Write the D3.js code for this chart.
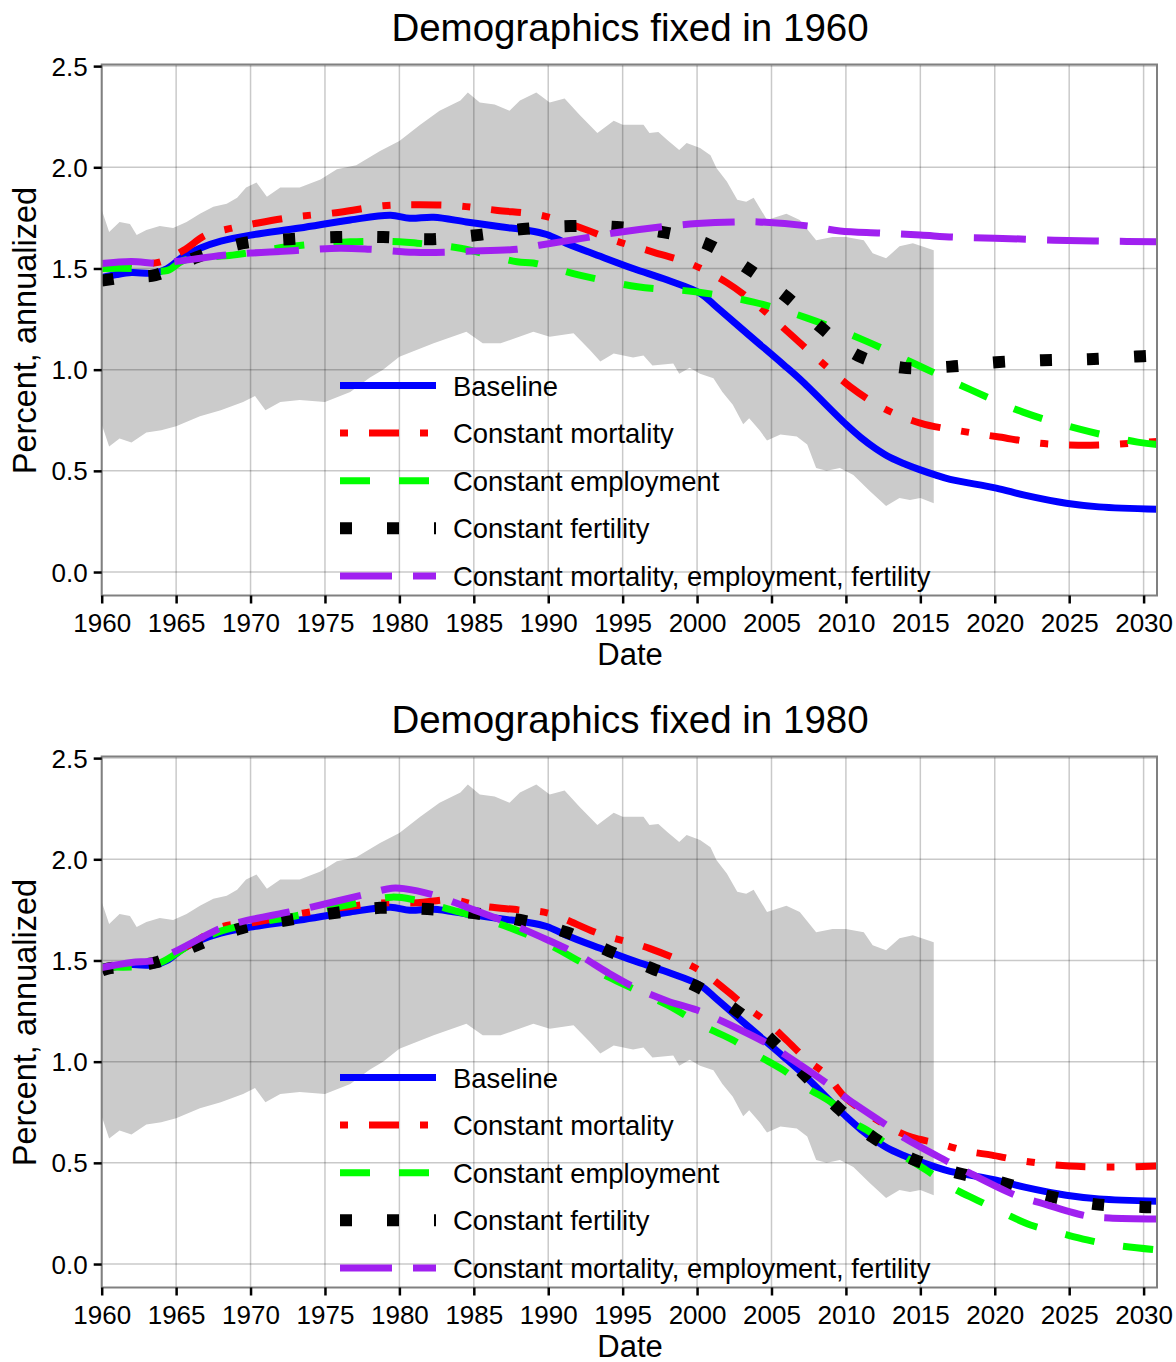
<!DOCTYPE html>
<html>
<head>
<meta charset="utf-8">
<script src="https://cdn.jsdelivr.net/npm/d3@7"></script>
<style>
  body { margin: 0; background: #fff; }
  svg { display: block; }
  text { font-family: "Liberation Sans", Arial, Helvetica, sans-serif; fill: #000; }
</style>
</head>
<body>
<svg id="chart" width="1176" height="1362"></svg>
<script>
// ---- axis ticks -------------------------------------------------------
const xTickValues = [1960, 1965, 1970, 1975, 1980, 1985, 1990, 1995, 2000, 2005, 2010, 2015, 2020, 2025, 2030];
const yTickValues = [0.0, 0.5, 1.0, 1.5, 2.0, 2.5];

const panelTitles = ["Demographics fixed in 1960", "Demographics fixed in 1980"];
const legendLabels = ["Baseline", "Constant mortality", "Constant employment", "Constant fertility",
                      "Constant mortality, employment, fertility"];

// ---- uncertainty band (upper / lower edge), [year, percent] -----------
const bandUpper = [
  [1960.0,1.79],[1960.5,1.68],[1961.2,1.73],[1961.9,1.72],[1962.35,1.665],[1963.0,1.69],[1963.9,1.71],
  [1964.8,1.70],[1965.7,1.73],[1966.6,1.77],[1967.5,1.805],[1968.4,1.82],[1969.1,1.85],[1969.7,1.90],
  [1970.4,1.925],[1971.1,1.855],[1972.0,1.90],[1973.3,1.90],[1974.7,1.94],[1975.8,1.99],[1977.1,2.01],
  [1978.7,2.08],[1980.0,2.13],[1981.4,2.21],[1982.7,2.28],[1984.1,2.33],[1984.6,2.37],[1985.4,2.32],
  [1986.4,2.31],[1987.4,2.28],[1988.1,2.33],[1989.2,2.37],[1990.1,2.32],[1991.1,2.34],[1992.1,2.26],
  [1993.3,2.17],[1994.4,2.23],[1995.0,2.21],[1996.4,2.21],[1996.8,2.17],[1997.4,2.175],[1998.0,2.135],
  [1998.8,2.085],[1999.3,2.12],[2000.2,2.095],[2000.9,2.06],[2001.3,1.996],[2002.0,1.93],[2002.7,1.84],
  [2003.3,1.83],[2003.8,1.85],[2004.7,1.74],[2006.0,1.77],[2006.9,1.74],[2008.0,1.64],[2009.1,1.656],
  [2010.0,1.656],[2011.2,1.64],[2011.8,1.575],[2012.7,1.55],[2013.6,1.61],[2014.5,1.625],[2015.9,1.59]
];
const bandLower = [
  [1960.0,0.73],[1960.5,0.62],[1961.2,0.66],[1962.0,0.64],[1963.0,0.69],[1964.0,0.70],[1965.0,0.72],
  [1966.6,0.77],[1968.0,0.80],[1969.5,0.84],[1970.3,0.87],[1971.0,0.80],[1972.0,0.84],[1973.3,0.85],
  [1975.0,0.84],[1976.7,0.89],[1978.0,0.96],[1978.9,1.00],[1980.0,1.064],[1982.3,1.13],[1984.5,1.187],
  [1985.6,1.13],[1986.8,1.13],[1989.0,1.187],[1990.1,1.163],[1991.7,1.18],[1992.8,1.097],[1993.5,1.04],
  [1994.4,1.08],[1995.7,1.06],[1996.4,1.07],[1997.0,1.02],[1998.4,1.03],[1998.8,0.98],[1999.5,1.01],
  [2000.2,0.98],[2001.1,0.958],[2001.7,0.89],[2002.4,0.826],[2003.1,0.73],[2003.5,0.76],[2004.2,0.70],
  [2004.7,0.65],[2005.6,0.68],[2006.7,0.67],[2007.4,0.63],[2008.0,0.514],[2008.7,0.50],[2009.6,0.514],
  [2010.5,0.48],[2011.6,0.40],[2012.7,0.326],[2013.6,0.366],[2014.3,0.356],[2015.0,0.366],[2015.9,0.34]
];

// ---- baseline (shared by both panels) --------------------------------
const baseline = [
  [1960,1.455],[1961,1.47],[1962,1.48],[1963.5,1.477],[1964.4,1.50],[1965.5,1.56],[1966.6,1.60],
  [1968,1.635],[1970,1.665],[1973.3,1.70],[1976.7,1.74],[1979.4,1.763],[1980.7,1.748],[1982.3,1.753],
  [1984.5,1.73],[1986.8,1.706],[1988.5,1.69],[1989.9,1.668],[1991.2,1.625],[1993.5,1.56],[1995.7,1.50],
  [1998,1.443],[2000.2,1.378],[2001.3,1.31],[2003.5,1.17],[2005.8,1.025],[2007.1,0.94],[2010,0.73],
  [2011,0.665],[2012,0.61],[2013,0.565],[2014,0.533],[2015,0.505],[2016,0.48],[2017,0.458],
  [2020.1,0.415],[2022,0.38],[2024.8,0.34],[2027,0.322],[2030.9,0.31]
];

// ---- demographics fixed in 1960 ---------------------------------------
const mortality1960 = [
  [1960,1.52],[1962,1.525],[1963.8,1.53],[1965.5,1.59],[1967,1.665],[1968.8,1.70],[1970.5,1.725],
  [1973,1.755],[1976,1.778],[1978.9,1.81],[1981.2,1.815],[1983.9,1.81],[1986.6,1.787],[1989.5,1.763],
  [1992,1.706],[1994.4,1.64],[1997.1,1.58],[1999.5,1.525],[2002,1.43],[2004.2,1.31],[2006.2,1.18],
  [2008.2,1.047],[2010.3,0.915],[2012.5,0.81],[2015,0.736],[2017.7,0.697],[2020.3,0.667],[2023,0.637],
  [2025.6,0.627],[2028.3,0.632],[2030.9,0.645]
];
const employment1960 = [
  [1960,1.50],[1962,1.50],[1964.4,1.49],[1965.5,1.54],[1968.8,1.566],[1972.5,1.607],[1976.7,1.632],
  [1980,1.632],[1981.2,1.625],[1984.1,1.60],[1987.9,1.533],[1989,1.527],[1992.1,1.467],[1996,1.41],
  [1999.9,1.385],[2003.8,1.334],[2007.4,1.255],[2011.2,1.146],[2014.8,1.023],[2018.4,0.90],
  [2021.9,0.79],[2025.7,0.706],[2029.6,0.642],[2030.9,0.63]
];
const fertility1960 = [
  [1960,1.44],[1962,1.46],[1963.6,1.467],[1966.4,1.556],[1969.5,1.625],[1972.6,1.645],[1975.8,1.655],
  [1978.9,1.655],[1982,1.645],[1985.2,1.665],[1988.3,1.695],[1991.5,1.71],[1994.6,1.705],[1997.7,1.68],
  [2000.7,1.62],[2003.4,1.50],[2006,1.36],[2008.3,1.21],[2010.8,1.07],[2013.8,1.01],[2017,1.015],
  [2020.1,1.037],[2023.2,1.047],[2026.3,1.052],[2029.5,1.065],[2030.9,1.07]
];
const allFixed1960 = [
  [1960,1.525],[1962,1.535],[1963.8,1.525],[1965,1.535],[1968.2,1.565],[1970,1.576],[1973.3,1.59],
  [1976,1.60],[1978,1.595],[1981,1.58],[1983,1.58],[1984.5,1.585],[1987.9,1.595],[1989.4,1.615],
  [1992.8,1.655],[1994.4,1.675],[1997.5,1.705],[2000,1.722],[2002.5,1.73],[2004.1,1.73],[2007.5,1.71],
  [2009.6,1.685],[2012.3,1.675],[2015,1.665],[2017.2,1.655],[2020,1.65],[2024,1.64],[2027.5,1.635],
  [2030.9,1.632]
];

// ---- demographics fixed in 1980 ---------------------------------------
const mortality1980 = [
  [1960,1.46],[1962,1.48],[1963.6,1.49],[1966,1.58],[1968,1.665],[1970.4,1.69],[1973.5,1.734],
  [1976,1.76],[1978.7,1.784],[1981.2,1.785],[1983.5,1.80],[1985.5,1.77],[1988,1.75],[1990,1.734],
  [1993.5,1.63],[1996.8,1.56],[2000.2,1.45],[2002,1.35],[2003.3,1.27],[2004.7,1.196],[2006,1.107],
  [2007.4,1.008],[2008.7,0.934],[2010,0.82],[2012.9,0.677],[2014.4,0.627],[2016.1,0.598],[2018.1,0.558],
  [2019.8,0.538],[2021.5,0.514],[2023.5,0.494],[2025,0.484],[2028,0.479],[2030.9,0.485]
];
const employment1980 = [
  [1960,1.47],[1963.6,1.48],[1966,1.58],[1968,1.645],[1970,1.68],[1973,1.72],[1976.2,1.77],
  [1979.5,1.813],[1981,1.80],[1983.5,1.75],[1985,1.72],[1987.5,1.66],[1990,1.58],[1992,1.50],
  [1994,1.42],[1996,1.35],[1998,1.28],[2000.6,1.17],[2002.4,1.107],[2004.1,1.03],[2005.8,0.958],
  [2007.4,0.87],[2009.1,0.795],[2010.6,0.697],[2011.4,0.662],[2013.8,0.538],[2015.4,0.464],
  [2017.2,0.375],[2018.8,0.316],[2020.6,0.252],[2022.4,0.193],[2024.4,0.153],[2026.2,0.119],
  [2028,0.094],[2030.9,0.07]
];
const fertility1980 = [
  [1960,1.45],[1960.4,1.46],[1963.6,1.49],[1966.4,1.576],[1969.4,1.66],[1972.5,1.70],[1975.6,1.734],
  [1978.7,1.76],[1981.9,1.754],[1985,1.734],[1988.1,1.70],[1991.2,1.64],[1994.1,1.546],[1997,1.46],
  [1999.9,1.374],[2002.6,1.255],[2005,1.107],[2007.1,0.944],[2009.4,0.776],[2011.8,0.627],[2014.5,0.518],
  [2017.5,0.45],[2020.6,0.40],[2023.6,0.336],[2026.7,0.296],[2029.9,0.282],[2030.9,0.28]
];
const allFixed1980 = [
  [1960,1.465],[1962,1.49],[1963.5,1.50],[1964.8,1.54],[1968,1.66],[1969.3,1.69],[1972.6,1.74],
  [1974.1,1.764],[1977.5,1.823],[1979.5,1.857],[1980.3,1.855],[1982.3,1.823],[1985,1.75],[1987.5,1.68],
  [1990,1.60],[1992,1.53],[1994,1.44],[1996,1.36],[1998,1.30],[2000,1.255],[2001.8,1.196],[2004.7,1.09],
  [2006,1.03],[2008.7,0.894],[2009.9,0.826],[2012.9,0.677],[2014,0.62],[2017,0.50],[2018.3,0.45],
  [2021.4,0.34],[2022.9,0.306],[2026.2,0.237],[2027.7,0.227],[2030.9,0.222]
];

const panelSeries = [
  [baseline, mortality1960, employment1960, fertility1960, allFixed1960],
  [baseline, mortality1980, employment1980, fertility1980, allFixed1980]
];

// ---- styling ----------------------------------------------------------
const seriesStyle = [
  { color: "#0000ff", width: 7,  dash: null },
  { color: "#ff0000", width: 7,  dash: "30,21,8,21", legendDash: "8,21,30,21" },
  { color: "#00ff00", width: 7,  dash: "30,29" },
  { color: "#000000", width: 12, dash: "12,35" },
  { color: "#a020f0", width: 7,  dash: "52,21" }
];

const svg = d3.select("#chart");
const plotLeft = 101.7, plotRight = 1157;
const panelTop = [64.5, 756.5];
const plotHeight = 531;

const x = d3.scaleLinear().domain([1960, 2030.9]).range([plotLeft, plotRight]);

panelTop.forEach((top, p) => {
  const bottom = top + plotHeight;
  const y = d3.scaleLinear().domain([-0.116, 2.508]).range([bottom, top]);
  const g = svg.append("g");

  const clipId = "clip" + p;
  svg.append("clipPath").attr("id", clipId)
    .append("rect").attr("x", plotLeft).attr("y", top)
    .attr("width", plotRight - plotLeft).attr("height", plotHeight);

  // shaded band
  const edge = d3.line().x(d => x(d[0])).y(d => y(d[1]));
  const bandPts = bandUpper.concat(bandLower.slice().reverse());
  g.append("path").attr("d", edge(bandPts) + "Z")
    .attr("fill", "#cbcbcb").attr("stroke", "none")
    .attr("clip-path", `url(#${clipId})`);

  // grid
  const grid = g.append("g").attr("stroke", "#000").attr("stroke-opacity", 0.21).attr("stroke-width", 1.5);
  xTickValues.forEach(t => grid.append("line")
    .attr("x1", x(t)).attr("x2", x(t)).attr("y1", top).attr("y2", bottom));
  yTickValues.forEach(t => grid.append("line")
    .attr("x1", plotLeft).attr("x2", plotRight).attr("y1", y(t)).attr("y2", y(t)));

  // series
  const lineGen = d3.line().x(d => x(d[0])).y(d => y(d[1])).curve(d3.curveCatmullRom.alpha(0.5));
  const lines = g.append("g").attr("clip-path", `url(#${clipId})`);
  panelSeries[p].forEach((data, i) => {
    const s = seriesStyle[i];
    lines.append("path").attr("d", lineGen(data))
      .attr("fill", "none").attr("stroke", s.color).attr("stroke-width", s.width)
      .attr("stroke-dasharray", s.dash).attr("stroke-linecap", "butt")
      .attr("stroke-linejoin", "round");
  });

  // spines
  g.append("rect").attr("x", plotLeft).attr("y", top)
    .attr("width", plotRight - plotLeft).attr("height", plotHeight)
    .attr("fill", "none").attr("stroke", "#808080").attr("stroke-width", 2);

  // axes
  const xAxis = d3.axisBottom(x).tickValues(xTickValues).tickFormat(d3.format("d"))
    .tickSize(8).tickPadding(8);
  const xg = g.append("g").attr("transform", `translate(0,${bottom})`).call(xAxis);
  const yAxis = d3.axisLeft(y).tickValues(yTickValues).tickFormat(d3.format(".1f"))
    .tickSize(8).tickPadding(6);
  const yg = g.append("g").attr("transform", `translate(${plotLeft},0)`).call(yAxis);
  [xg, yg].forEach(a => {
    a.select(".domain").remove();
    a.selectAll(".tick line").attr("stroke", "#000").attr("stroke-width", 2.5);
    a.selectAll(".tick text").attr("font-size", 26)
      .attr("font-family", '"Liberation Sans", Arial, sans-serif').attr("fill", "#000");
  });
  xg.selectAll(".tick text").attr("dy", null).attr("y", 36);
  yg.selectAll(".tick text").attr("dy", "0.35em");

  // titles and axis labels
  g.append("text").attr("x", 630).attr("y", top - 23.5).attr("text-anchor", "middle")
    .attr("font-size", 38.5).text(panelTitles[p]);
  g.append("text").attr("x", 630).attr("y", bottom + 69).attr("text-anchor", "middle")
    .attr("font-size", 31).text("Date");
  g.append("text").attr("transform", `translate(36,${top + 266}) rotate(-90)`)
    .attr("text-anchor", "middle").attr("font-size", 32.5).text("Percent, annualized");

  // legend
  const legY0 = top + 321, legStep = 47.6;
  legendLabels.forEach((lab, i) => {
    const s = seriesStyle[i];
    const ly = legY0 + i * legStep;
    g.append("line").attr("x1", 340).attr("x2", 436).attr("y1", ly).attr("y2", ly)
      .attr("stroke", s.color).attr("stroke-width", s.width)
      .attr("stroke-dasharray", s.legendDash || s.dash).attr("stroke-linecap", "butt");
    g.append("text").attr("x", 453).attr("y", ly + 10).attr("font-size", 27.4).text(lab);
  });
});
</script>
</body>
</html>
